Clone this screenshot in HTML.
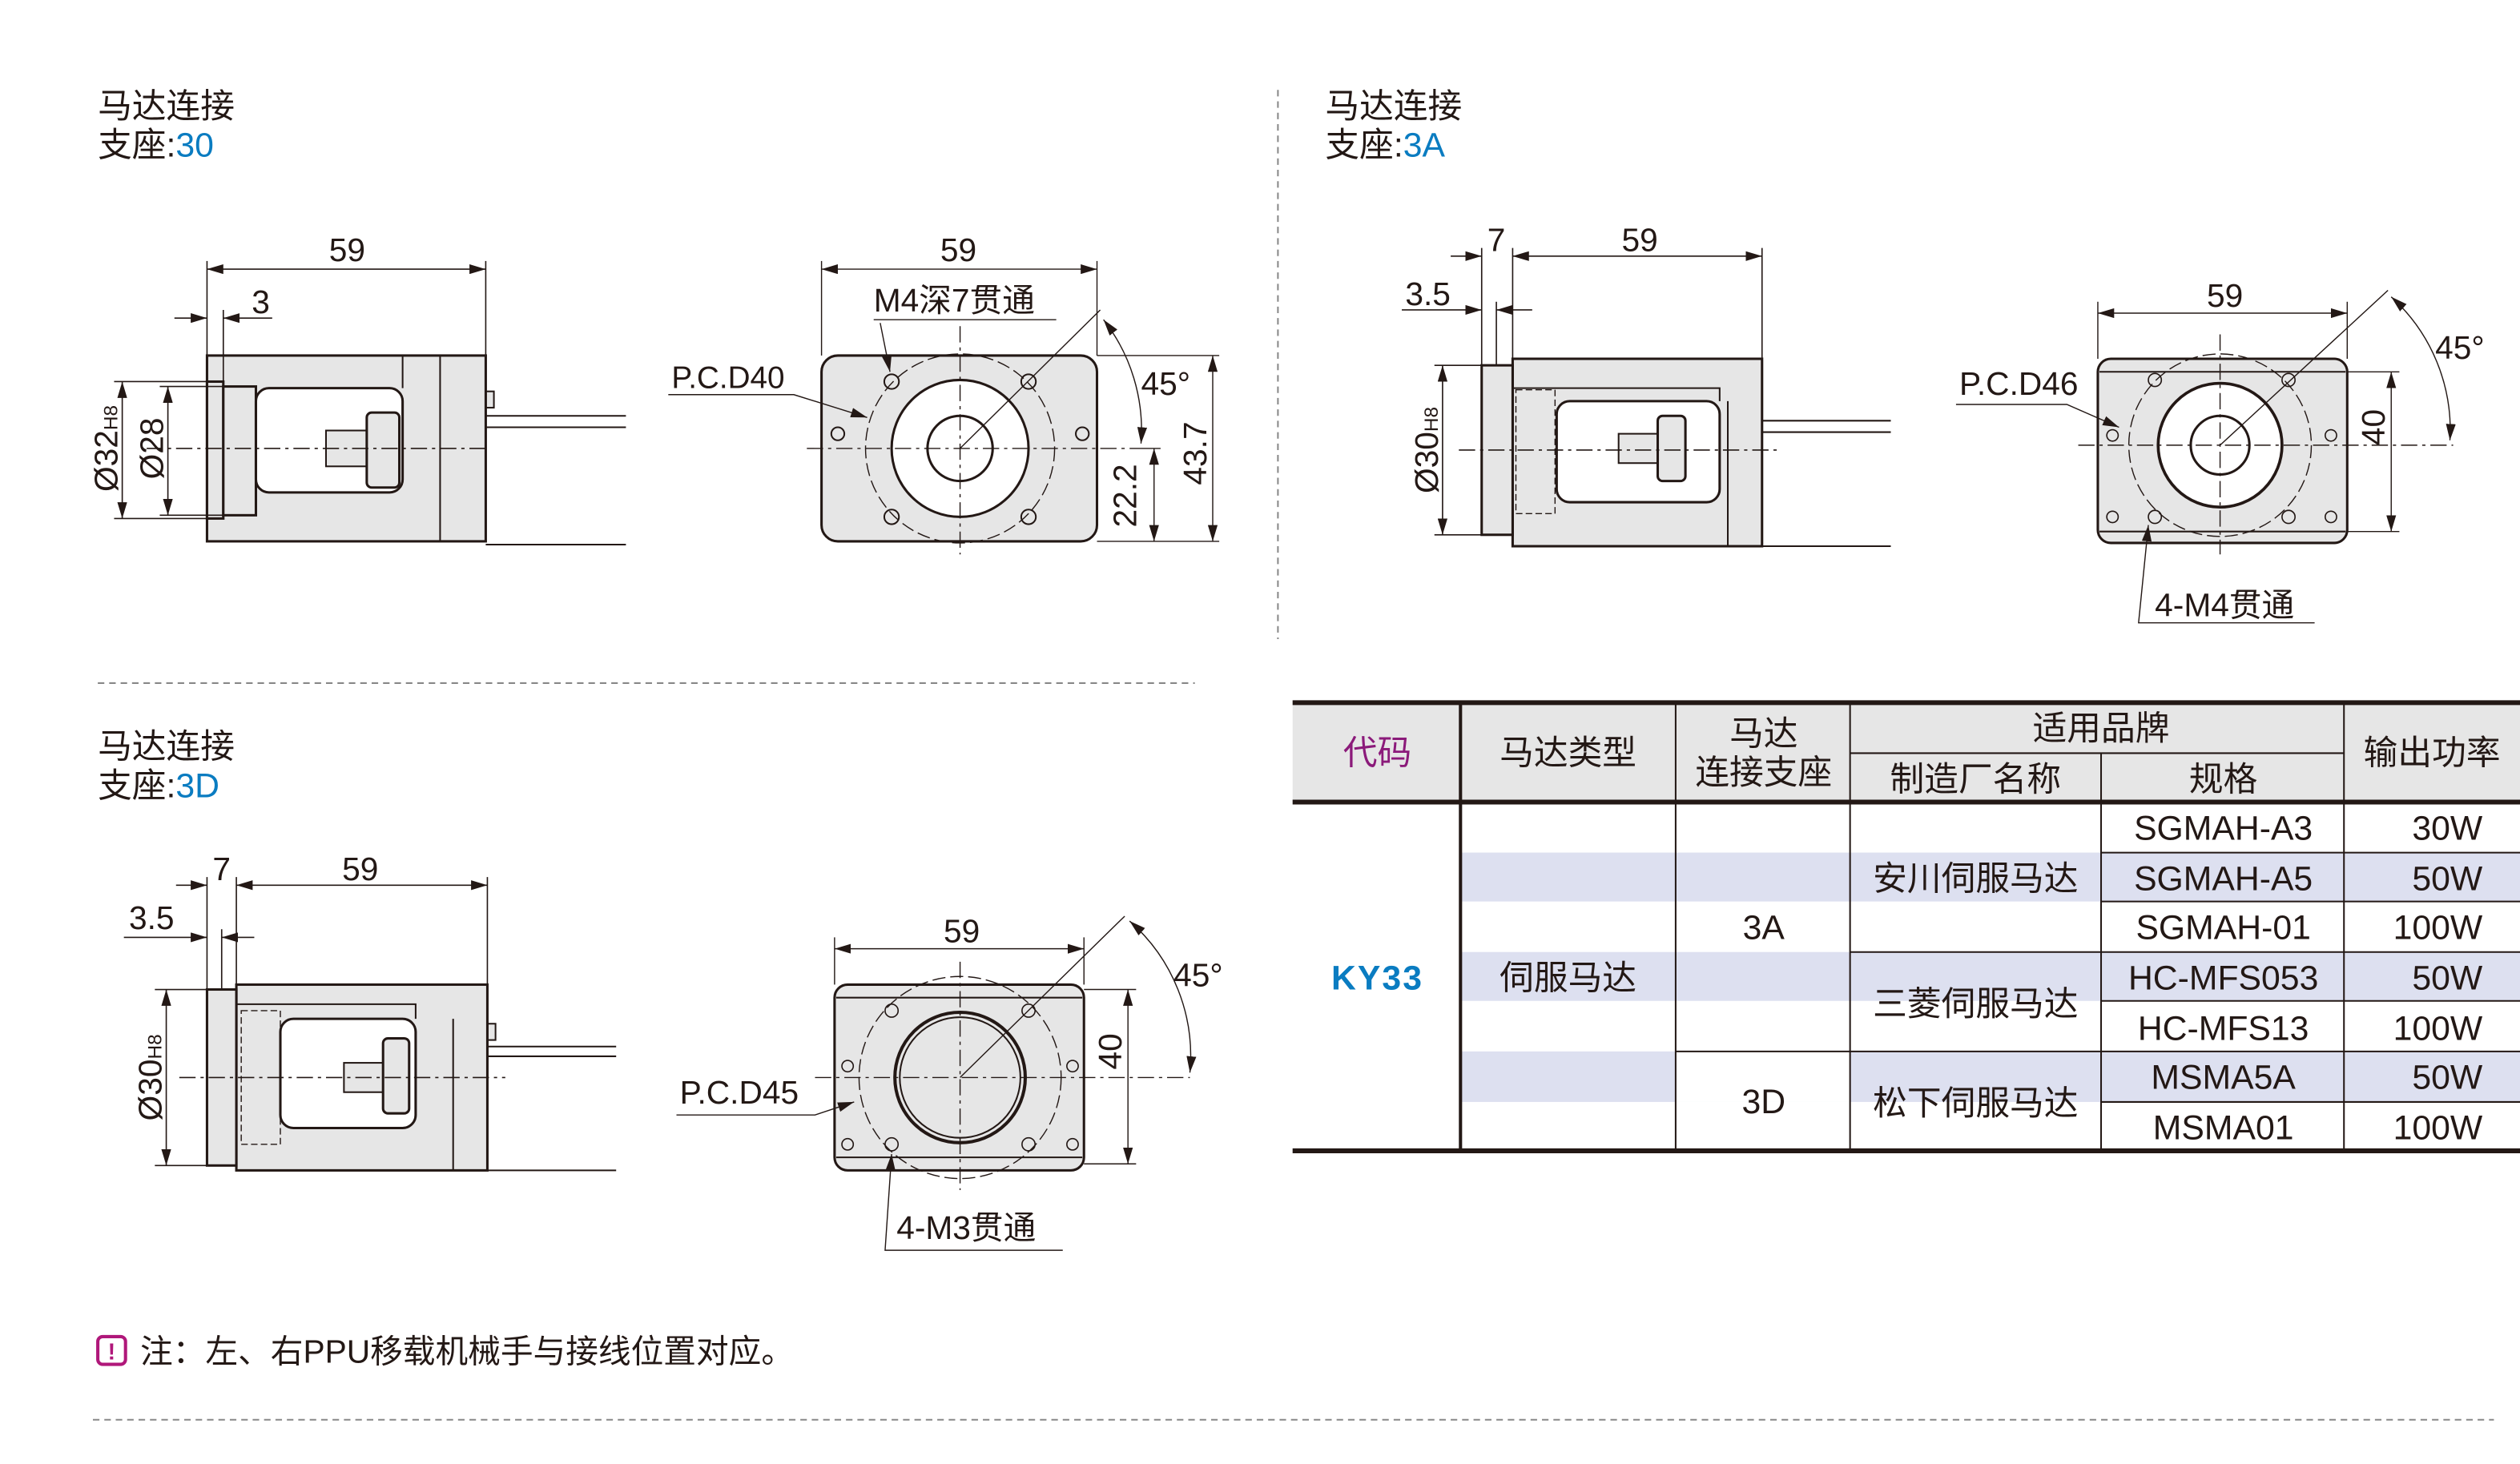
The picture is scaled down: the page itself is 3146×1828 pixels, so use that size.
<!DOCTYPE html>
<html><head><meta charset="utf-8"><style>
html,body{margin:0;padding:0;background:#fff}
svg{display:block}
text{font-family:"Liberation Sans","Noto Sans CJK SC",sans-serif;fill:#231815}
</style></head><body>
<svg width="3146" height="1828" viewBox="0 0 1546 898" xmlns="http://www.w3.org/2000/svg">
<defs>
<marker id="a" viewBox="0 0 10 6" refX="10" refY="3" markerWidth="10" markerHeight="6" orient="auto-start-reverse" markerUnits="userSpaceOnUse"><path d="M0,0L10,3L0,6z" fill="#231815"/></marker>
</defs>
<g font-size="21">
<text x="60" y="72">马达连接</text><text x="60" y="96">支座:<tspan style="fill:#0a7cc1">30</tspan></text>
<text x="813" y="72">马达连接</text><text x="813" y="96">支座:<tspan style="fill:#0a7cc1">3A</tspan></text>
<text x="60" y="465">马达连接</text><text x="60" y="489">支座:<tspan style="fill:#0a7cc1">3D</tspan></text>
</g>
<g stroke="#888" stroke-dasharray="4,3" stroke-width="1">
<line x1="784" y1="55" x2="784" y2="392"/>
<line x1="60" y1="419" x2="733" y2="419"/>
<line x1="57" y1="871" x2="1530" y2="871"/>
</g>
<!-- note -->
<rect x="60" y="820" width="17" height="17" rx="3" fill="none" stroke="#b0177a" stroke-width="2"/>
<text x="68.5" y="834" font-size="14" text-anchor="middle" style="fill:#b0177a;font-weight:bold">!</text>
<text x="86" y="836" font-size="20">注：左、右PPU移载机械手与接线位置对应。</text>

<!-- TABLE -->
<rect x="793" y="430" width="753" height="62" fill="#e6e6e6"/>
<rect x="896" y="523" width="650" height="30" fill="#dde0f0"/>
<rect x="896" y="584" width="650" height="30" fill="#dde0f0"/>
<rect x="896" y="645" width="650" height="31" fill="#dde0f0"/>
<rect x="1028" y="645" width="107" height="31" fill="#fff"/>
<g stroke="#231815" stroke-width="1">
<line x1="1028" y1="430" x2="1028" y2="707"/>
<line x1="1135" y1="430" x2="1135" y2="707"/>
<line x1="1289" y1="462" x2="1289" y2="707"/>
<line x1="1438" y1="430" x2="1438" y2="707"/>
<line x1="1135" y1="462" x2="1438" y2="462"/>
<line x1="1289" y1="523" x2="1546" y2="523"/>
<line x1="1289" y1="553" x2="1546" y2="553"/>
<line x1="1135" y1="584" x2="1546" y2="584"/>
<line x1="1289" y1="614" x2="1546" y2="614"/>
<line x1="1028" y1="645" x2="1546" y2="645"/>
<line x1="1289" y1="676" x2="1546" y2="676"/>
</g>
<line x1="896" y1="430" x2="896" y2="707" stroke="#231815" stroke-width="2"/>
<g stroke="#231815" stroke-width="3">
<line x1="793" y1="431" x2="1546" y2="431"/>
<line x1="793" y1="492" x2="1546" y2="492"/>
<line x1="793" y1="706" x2="1546" y2="706"/>
</g>
<g font-size="21" text-anchor="middle">
<text x="845" y="469" style="fill:#8b1a7a">代码</text>
<text x="962" y="469">马达类型</text>
<text x="1082" y="457">马达</text>
<text x="1082" y="481">连接支座</text>
<text x="1289" y="454">适用品牌</text>
<text x="1212" y="485">制造厂名称</text>
<text x="1364" y="485">规格</text>
<text x="1492" y="469">输出功率</text>
<text x="845" y="607" style="fill:#0a7cc1;font-weight:bold;letter-spacing:1px">KY33</text>
<text x="962" y="607">伺服马达</text>
<text x="1082" y="576">3A</text>
<text x="1082" y="683">3D</text>
<text x="1212" y="546">安川伺服马达</text>
<text x="1212" y="623">三菱伺服马达</text>
<text x="1212" y="684">松下伺服马达</text>
<text x="1364" y="515">SGMAH-A3</text>
<text x="1364" y="546">SGMAH-A5</text>
<text x="1364" y="576">SGMAH-01</text>
<text x="1364" y="607">HC-MFS053</text>
<text x="1364" y="638">HC-MFS13</text>
<text x="1364" y="668">MSMA5A</text>
<text x="1364" y="699">MSMA01</text>
</g>
<g font-size="21" text-anchor="end">
<text x="1523" y="515">30W</text><text x="1523" y="546">50W</text><text x="1523" y="576">100W</text>
<text x="1523" y="607">50W</text><text x="1523" y="638">100W</text><text x="1523" y="668">50W</text><text x="1523" y="699">100W</text>
</g>

<!-- DRAWING 1: side 30 -->
<g stroke="#231815" fill="none" stroke-width="1.5">
<path d="M298,255H384M298,334H384M298,262H384" stroke-width="1"/>
<rect x="298" y="240" width="5" height="10" fill="#e6e6e6" stroke-width="1"/>
<rect x="127" y="218" width="171" height="114" fill="#e6e6e6"/>
<rect x="127" y="234" width="10" height="84" fill="#e6e6e6"/>
<rect x="137" y="237" width="20" height="79" fill="#e6e6e6"/>
<rect x="157" y="238" width="90" height="64" rx="8" fill="#fff"/>
<rect x="200" y="264" width="25" height="22" fill="#e6e6e6" stroke-width="1"/>
<rect x="225" y="253" width="20" height="46" rx="3" fill="#e6e6e6"/>
<path d="M247,238V218M270,218V332" stroke-width="1"/>
</g>
<g stroke="#231815" stroke-width="0.8" fill="none">
<line x1="90" y1="275" x2="300" y2="275" stroke-dasharray="10,3,2,3"/>
<line x1="127" y1="160" x2="127" y2="218"/><line x1="298" y1="160" x2="298" y2="218"/><line x1="137" y1="190" x2="137" y2="234"/>
<line x1="127" y1="165" x2="298" y2="165" marker-start="url(#a)" marker-end="url(#a)"/>
<line x1="107" y1="195" x2="127" y2="195" marker-end="url(#a)"/><line x1="167" y1="195" x2="137" y2="195" marker-end="url(#a)"/>
<line x1="70" y1="234" x2="127" y2="234"/><line x1="70" y1="318" x2="127" y2="318"/>
<line x1="98" y1="237" x2="137" y2="237"/><line x1="98" y1="316" x2="137" y2="316"/>
<line x1="75" y1="234" x2="75" y2="318" marker-start="url(#a)" marker-end="url(#a)"/>
<line x1="103" y1="237" x2="103" y2="316" marker-start="url(#a)" marker-end="url(#a)"/>
</g>
<g font-size="20">
<text x="213" y="160" text-anchor="middle">59</text><text x="160" y="192" text-anchor="middle">3</text>
<text transform="translate(72,275) rotate(-90)" text-anchor="middle">Ø32<tspan font-size="12">H8</tspan></text>
<text transform="translate(100,275) rotate(-90)" text-anchor="middle">Ø28</text>
</g>

<!-- DRAWING 2: front 30 -->
<g stroke="#231815" fill="none">
<rect x="504" y="218" width="169" height="114" rx="10" fill="#e6e6e6" stroke-width="1.5"/>
<circle cx="589" cy="275" r="58" stroke-width="0.7" stroke-dasharray="8,3"/>
<circle cx="589" cy="275" r="42" fill="#fff" stroke-width="1.5"/>
<circle cx="589" cy="275" r="20" stroke-width="1.5"/>
<g stroke-width="1"><circle cx="547" cy="234" r="4.5"/><circle cx="631" cy="234" r="4.5"/><circle cx="547" cy="317" r="4.5"/><circle cx="631" cy="317" r="4.5"/><circle cx="514" cy="266" r="4"/><circle cx="664" cy="266" r="4"/></g>
<g stroke-width="0.7"><line x1="495" y1="275" x2="700" y2="275" stroke-dasharray="10,3,2,3"/><line x1="589" y1="200" x2="589" y2="340" stroke-dasharray="10,3,2,3"/>
<line x1="589" y1="275" x2="675" y2="190"/>
<line x1="504" y1="160" x2="504" y2="218"/><line x1="673" y1="160" x2="673" y2="218"/>
<line x1="504" y1="165" x2="673" y2="165" marker-start="url(#a)" marker-end="url(#a)"/>
<line x1="673" y1="218" x2="748" y2="218"/><line x1="673" y1="332" x2="748" y2="332"/>
<line x1="700" y1="275" x2="712" y2="275"/>
<line x1="708" y1="275" x2="708" y2="332" marker-start="url(#a)" marker-end="url(#a)"/>
<line x1="744" y1="218" x2="744" y2="332" marker-start="url(#a)" marker-end="url(#a)"/>
<path d="M677,196 A110,110 0 0 1 700,272" marker-start="url(#a)" marker-end="url(#a)"/>
<path d="M536,196H648"/><line x1="540" y1="198" x2="546" y2="228" marker-end="url(#a)"/>
<path d="M410,242H487L532,256" marker-end="url(#a)"/></g>
</g>
<g font-size="20">
<text x="588" y="160" text-anchor="middle">59</text>
<text x="536" y="191">M4深7贯通</text>
<text x="412" y="238" font-size="19">P.C.D40</text>
<text x="700" y="242">45°</text>
<text transform="translate(697,304) rotate(-90)" text-anchor="middle">22.2</text>
<text transform="translate(740,278) rotate(-90)" text-anchor="middle">43.7</text>
</g>

<!-- DRAWING 3: side 3A -->
<g stroke="#231815" fill="none" stroke-width="1.5">
<path d="M1081,258H1160M1081,335H1160M1081,265H1160" stroke-width="1"/>
<rect x="928" y="220" width="153" height="115" fill="#e6e6e6"/>
<rect x="909" y="224" width="19" height="104" fill="#e6e6e6"/>
<rect x="930" y="239" width="24" height="76" stroke-width="0.7" stroke-dasharray="4,2"/>
<rect x="955" y="246" width="100" height="62" rx="8" fill="#fff"/>
<rect x="993" y="266" width="24" height="18" fill="#e6e6e6" stroke-width="1"/>
<rect x="1017" y="255" width="17" height="40" rx="3" fill="#e6e6e6"/>
<path d="M1055,246V238H928M1060,335V246" stroke-width="1"/>
</g>
<g stroke="#231815" stroke-width="0.8" fill="none">
<line x1="895" y1="276" x2="1090" y2="276" stroke-dasharray="10,3,2,3"/>
<line x1="909" y1="152" x2="909" y2="224"/><line x1="928" y1="152" x2="928" y2="220"/><line x1="1081" y1="152" x2="1081" y2="220"/><line x1="918" y1="185" x2="918" y2="224"/>
<line x1="928" y1="157" x2="1081" y2="157" marker-start="url(#a)" marker-end="url(#a)"/>
<line x1="890" y1="157" x2="909" y2="157" marker-end="url(#a)"/>
<line x1="860" y1="190" x2="909" y2="190" marker-end="url(#a)"/><line x1="940" y1="190" x2="918" y2="190" marker-end="url(#a)"/>
<line x1="880" y1="224" x2="909" y2="224"/><line x1="880" y1="328" x2="909" y2="328"/>
<line x1="885" y1="224" x2="885" y2="328" marker-start="url(#a)" marker-end="url(#a)"/>
</g>
<g font-size="20">
<text x="918" y="154" text-anchor="middle">7</text><text x="1006" y="154" text-anchor="middle">59</text><text x="876" y="187" text-anchor="middle">3.5</text>
<text transform="translate(882,276) rotate(-90)" text-anchor="middle">Ø30<tspan font-size="12">H8</tspan></text>
</g>

<!-- DRAWING 4: front 3A -->
<g stroke="#231815" fill="none">
<rect x="1287" y="220" width="153" height="113" rx="8" fill="#e6e6e6" stroke-width="1.5"/>
<path d="M1288,228H1439M1288,326H1439" stroke-width="1"/>
<circle cx="1362" cy="273" r="56" stroke-width="0.7" stroke-dasharray="8,3"/>
<circle cx="1362" cy="273" r="38" fill="#fff" stroke-width="1.8"/>
<circle cx="1362" cy="273" r="18" stroke-width="1.5"/>
<g stroke-width="0.8"><circle cx="1322" cy="233" r="4"/><circle cx="1404" cy="233" r="4"/><circle cx="1322" cy="317" r="4"/><circle cx="1404" cy="317" r="4"/><circle cx="1296" cy="267" r="3.5"/><circle cx="1430" cy="267" r="3.5"/><circle cx="1296" cy="317" r="3.5"/><circle cx="1430" cy="317" r="3.5"/></g>
<g stroke-width="0.7"><line x1="1275" y1="273" x2="1505" y2="273" stroke-dasharray="10,3,2,3"/><line x1="1362" y1="205" x2="1362" y2="340" stroke-dasharray="10,3,2,3"/>
<line x1="1362" y1="273" x2="1465" y2="178"/>
<line x1="1287" y1="185" x2="1287" y2="220"/><line x1="1440" y1="185" x2="1440" y2="220"/>
<line x1="1287" y1="192" x2="1440" y2="192" marker-start="url(#a)" marker-end="url(#a)"/>
<line x1="1440" y1="228" x2="1472" y2="228"/><line x1="1440" y1="326" x2="1472" y2="326"/>
<line x1="1467" y1="228" x2="1467" y2="326" marker-start="url(#a)" marker-end="url(#a)"/>
<path d="M1467,182 A110,110 0 0 1 1503,270" marker-start="url(#a)" marker-end="url(#a)"/>
<path d="M1200,248H1268L1300,262" marker-end="url(#a)"/>
<path d="M1420,382H1312L1318,322" marker-end="url(#a)"/></g>
</g>
<g font-size="20">
<text x="1365" y="188" text-anchor="middle">59</text>
<text x="1202" y="242">P.C.D46</text>
<text x="1494" y="220">45°</text>
<text x="1322" y="378">4-M4贯通</text>
<text transform="translate(1463,262) rotate(-90)" text-anchor="middle">40</text>
</g>

<!-- DRAWING 5: side 3D -->
<g stroke="#231815" fill="none" stroke-width="1.5">
<path d="M299,642H378M299,718H378M299,648H378" stroke-width="1"/>
<rect x="299" y="628" width="5" height="10" fill="#e6e6e6" stroke-width="1"/>
<rect x="145" y="604" width="154" height="114" fill="#e6e6e6"/>
<rect x="127" y="607" width="18" height="108" fill="#e6e6e6"/>
<rect x="148" y="620" width="24" height="82" stroke-width="0.7" stroke-dasharray="4,2"/>
<rect x="172" y="625" width="83" height="67" rx="8" fill="#fff"/>
<rect x="211" y="652" width="24" height="18" fill="#e6e6e6" stroke-width="1"/>
<rect x="235" y="637" width="16" height="46" rx="3" fill="#e6e6e6"/>
<path d="M255,625V616H145M278,718V625" stroke-width="1"/>
</g>
<g stroke="#231815" stroke-width="0.8" fill="none">
<line x1="110" y1="661" x2="310" y2="661" stroke-dasharray="10,3,2,3"/>
<line x1="127" y1="538" x2="127" y2="607"/><line x1="145" y1="538" x2="145" y2="604"/><line x1="299" y1="538" x2="299" y2="604"/><line x1="136" y1="570" x2="136" y2="607"/>
<line x1="145" y1="543" x2="299" y2="543" marker-start="url(#a)" marker-end="url(#a)"/>
<line x1="108" y1="543" x2="127" y2="543" marker-end="url(#a)"/>
<line x1="76" y1="575" x2="127" y2="575" marker-end="url(#a)"/><line x1="156" y1="575" x2="136" y2="575" marker-end="url(#a)"/>
<line x1="95" y1="607" x2="127" y2="607"/><line x1="95" y1="715" x2="127" y2="715"/>
<line x1="102" y1="607" x2="102" y2="715" marker-start="url(#a)" marker-end="url(#a)"/>
</g>
<g font-size="20">
<text x="136" y="540" text-anchor="middle">7</text><text x="221" y="540" text-anchor="middle">59</text><text x="93" y="570" text-anchor="middle">3.5</text>
<text transform="translate(99,661) rotate(-90)" text-anchor="middle">Ø30<tspan font-size="12">H8</tspan></text>
</g>

<!-- DRAWING 6: front 3D -->
<g stroke="#231815" fill="none">
<rect x="512" y="604" width="153" height="114" rx="8" fill="#e6e6e6" stroke-width="1.5"/>
<path d="M513,612H664M513,710H664" stroke-width="1"/>
<circle cx="589" cy="661" r="62" stroke-width="0.7" stroke-dasharray="8,3"/>
<circle cx="589" cy="661" r="40" fill="#e6e6e6" stroke-width="2"/>
<circle cx="589" cy="661" r="37" stroke-width="1"/>
<g stroke-width="0.8"><circle cx="547" cy="620" r="4"/><circle cx="631" cy="620" r="4"/><circle cx="547" cy="702" r="4"/><circle cx="631" cy="702" r="4"/><circle cx="520" cy="654" r="3.5"/><circle cx="658" cy="654" r="3.5"/><circle cx="520" cy="702" r="3.5"/><circle cx="658" cy="702" r="3.5"/></g>
<g stroke-width="0.7"><line x1="500" y1="661" x2="730" y2="661" stroke-dasharray="10,3,2,3"/><line x1="589" y1="590" x2="589" y2="730" stroke-dasharray="10,3,2,3"/>
<line x1="589" y1="661" x2="690" y2="562"/>
<line x1="512" y1="575" x2="512" y2="604"/><line x1="665" y1="575" x2="665" y2="604"/>
<line x1="512" y1="582" x2="665" y2="582" marker-start="url(#a)" marker-end="url(#a)"/>
<line x1="665" y1="607" x2="697" y2="607"/><line x1="665" y1="714" x2="697" y2="714"/>
<line x1="692" y1="607" x2="692" y2="714" marker-start="url(#a)" marker-end="url(#a)"/>
<path d="M693,565 A110,110 0 0 1 730,658" marker-start="url(#a)" marker-end="url(#a)"/>
<path d="M415,684H500L524,676" marker-end="url(#a)"/>
<path d="M652,767H543L547,708" marker-end="url(#a)"/></g>
</g>
<g font-size="20">
<text x="590" y="578" text-anchor="middle">59</text>
<text x="417" y="677">P.C.D45</text>
<text x="720" y="605">45°</text>
<text x="550" y="760">4-M3贯通</text>
<text transform="translate(688,645) rotate(-90)" text-anchor="middle">40</text>
</g>
</svg>
</body></html>
